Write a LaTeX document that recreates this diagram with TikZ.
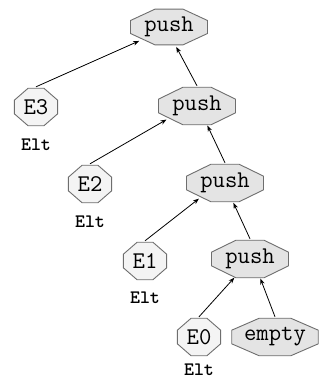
\documentclass[tikz,border=0pt]{standalone}
\usetikzlibrary{shapes.geometric,arrows.meta}
\pgfdeclarelayer{background}
\pgfsetlayers{background,main}
\definecolor{pushgray}{HTML}{E4E4E4}
\definecolor{eltgray}{HTML}{F4F4F4}
\definecolor{bordergray}{HTML}{6E6E6E}
\tikzset{
  gvnode/.style={shape=ellipse, inner sep=0pt, font=\ttfamily\fontsize{24}{24}\selectfont},
  pushnode/.style={gvnode, minimum width=82pt, minimum height=40pt},
  eltnode/.style={gvnode, minimum width=46pt, minimum height=40pt},
  emptynode/.style={gvnode, minimum width=94pt, minimum height=40pt},
  typelabel/.style={inner sep=0pt, font=\ttfamily\bfseries\fontsize{19}{19}\selectfont},
  outline/.style={draw=bordergray, line width=0.9pt},
  edge/.style={draw=black, line width=0.8pt, -{Stealth[length=6pt,width=4.5pt]}}
}
\begin{document}
\begin{tikzpicture}[x=1pt,y=-1pt]
\useasboundingbox (0,0) rectangle (320,381);
% nodes
\node[pushnode] (p1) at (169,27) {push};
\node[eltnode] (e3) at (36,107) {E3};
\node[pushnode] (p2) at (197,106) {push};
\node[eltnode] (e2) at (90,184) {E2};
\node[pushnode] (p3) at (225,183) {push};
\node[eltnode] (e1) at (145,261) {E1};
\node[pushnode] (p4) at (250,259) {push};
\node[eltnode] (e0) at (199,337) {E0};
\node[emptynode] (em) at (275,337) {empty};
% type labels
\node[typelabel] (t3) at (36,145) {Elt};
\node[typelabel] (t2) at (90,222) {Elt};
\node[typelabel] (t1) at (145,298) {Elt};
\node[typelabel] (t0) at (199,370) {Elt};
% octagonal outlines
\begin{pgfonlayer}{background}
\foreach \nm/\hw/\hh/\fc in {p1/41/19/pushgray, p2/41/20/pushgray, p3/41/20/pushgray, p4/41/20/pushgray,
  e3/23/20/eltgray, e2/23/20/eltgray, e1/23/20/eltgray, e0/23/20/eltgray, em/46/20/pushgray}
  \filldraw[outline, fill=\fc, shift={(\nm.center)}]
    (20:\hw pt and \hh pt) -- (70:\hw pt and \hh pt) -- (110:\hw pt and \hh pt) -- (160:\hw pt and \hh pt)
    -- (200:\hw pt and \hh pt) -- (250:\hw pt and \hh pt) -- (290:\hw pt and \hh pt) -- (340:\hw pt and \hh pt) -- cycle;
\end{pgfonlayer}
% edges
\draw[edge] (e3.north) -- (p1.205);
\draw[edge] (p2.north) -- (p1.290);
\draw[edge] (e2.north) -- (p2.204);
\draw[edge] (p3.north) -- (p2.298);
\draw[edge] (e1.north) -- (p3.211);
\draw[edge] (p4.north) -- (p3.293);
\draw[edge] (e0.north) -- (p4.230);
\draw[edge] (em.north) -- (p4.298);
\end{tikzpicture}
\end{document}
